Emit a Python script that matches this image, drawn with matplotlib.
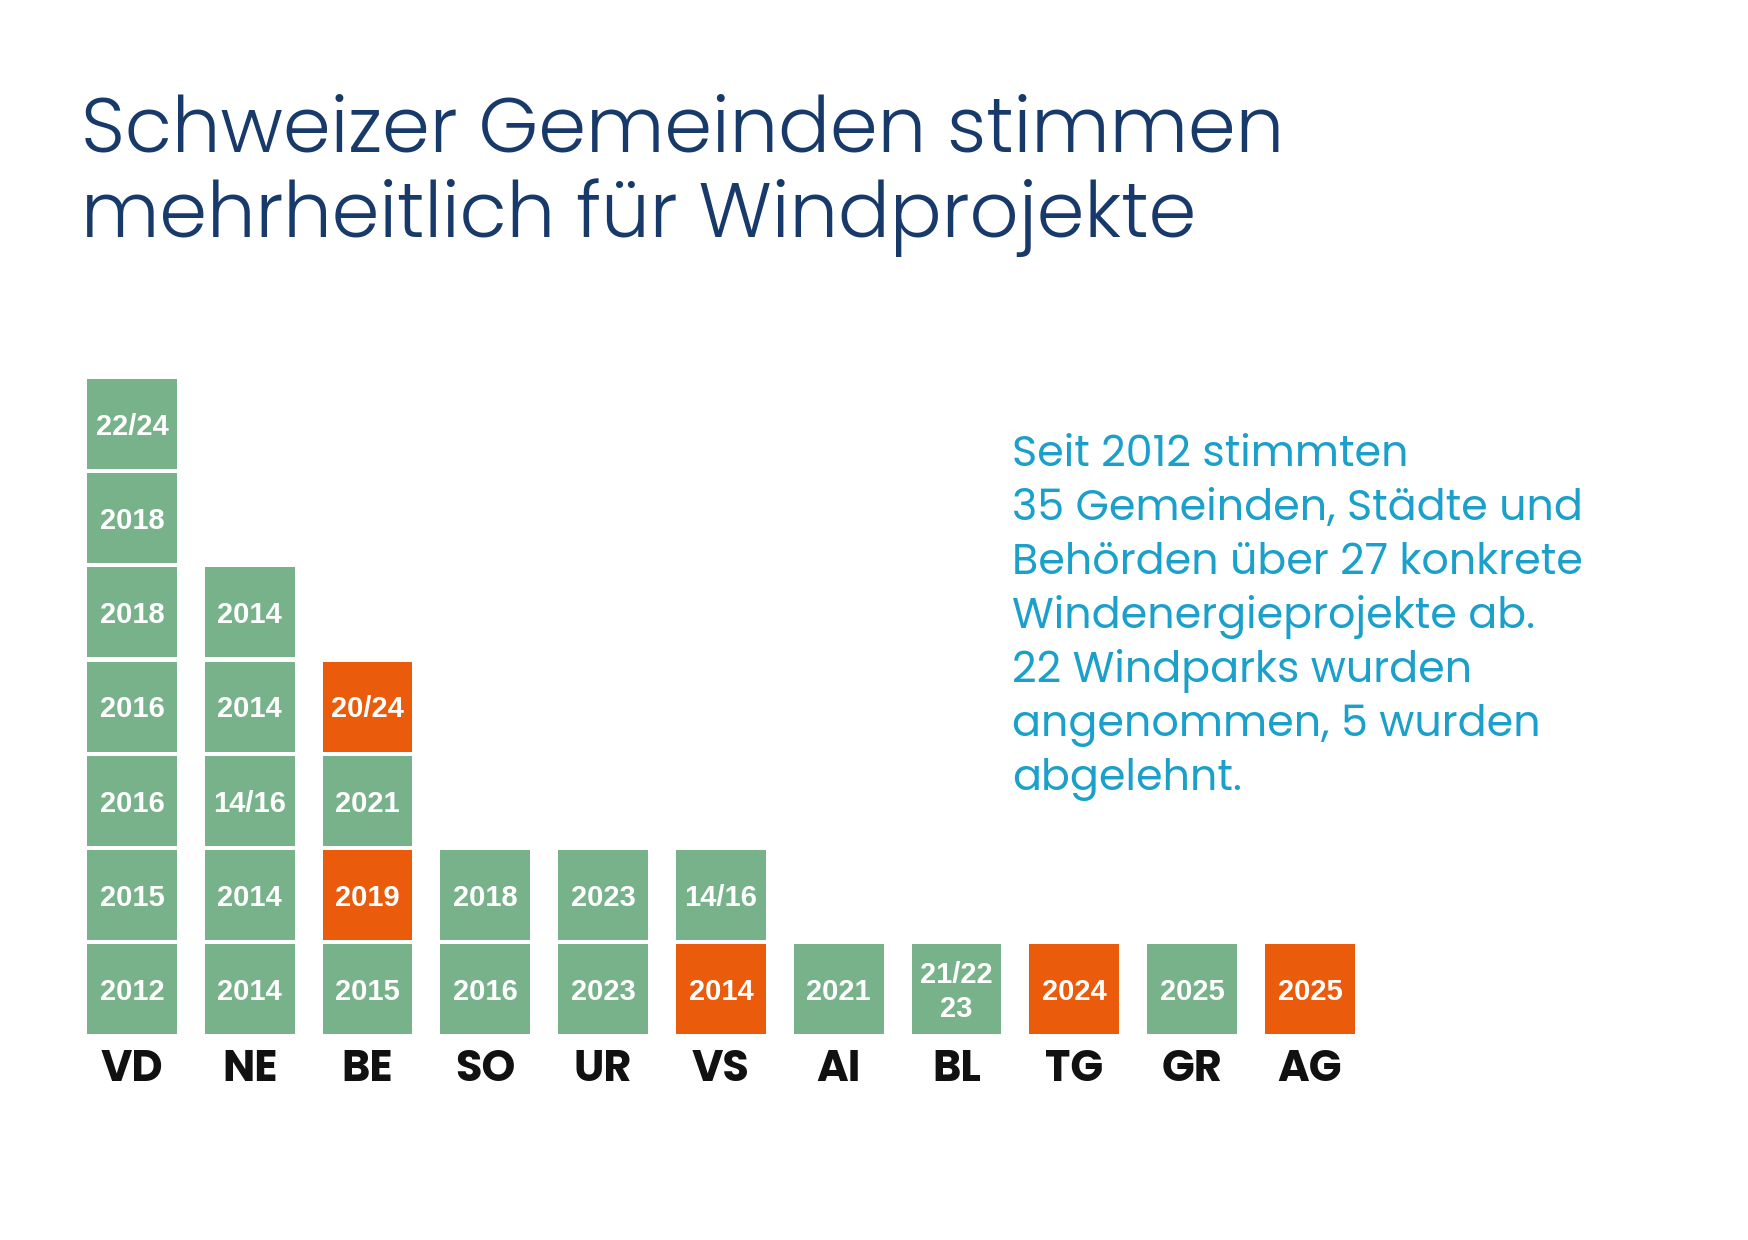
import matplotlib
matplotlib.use('Agg')
import matplotlib.pyplot as plt

W, H, DPI = 1748, 1240, 100

GREEN = '#78b28b'
ORANGE = '#ea5b0c'
NAVY = '#183a6b'
CYAN = '#1aa0ca'

HEAD_FONT = ['Poppins', 'Inter', 'DejaVu Sans']
YEAR_FONT = ['Liberation Sans', 'DejaVu Sans']

# cantons, left to right
cantons = ['VD', 'NE', 'BE', 'SO', 'UR', 'VS', 'AI', 'BL', 'TG', 'GR', 'AG']

# vote years per canton, bottom to top
years = [
    ['2012', '2015', '2016', '2016', '2018', '2018', '22/24'],
    ['2014', '2014', '14/16', '2014', '2014'],
    ['2015', '2019', '2021', '20/24'],
    ['2016', '2018'],
    ['2023', '2023'],
    ['2014', '14/16'],
    ['2021'],
    ['21/22\n23'],
    ['2024'],
    ['2025'],
    ['2025'],
]

# 1 = project rejected, 0 = accepted
rejected = [
    [0, 0, 0, 0, 0, 0, 0],
    [0, 0, 0, 0, 0],
    [0, 1, 0, 1],
    [0, 0],
    [0, 0],
    [1, 0],
    [0],
    [0],
    [1],
    [0],
    [1],
]

title_lines = ['Schweizer Gemeinden stimmen',
               'mehrheitlich für Windprojekte']

note_lines = ['Seit 2012 stimmten',
              '35 Gemeinden, Städte und',
              'Behörden über 27 konkrete',
              'Windenergieprojekte ab.',
              '22 Windparks wurden',
              'angenommen, 5 wurden',
              'abgelehnt.']

fig = plt.figure(figsize=(W / DPI, H / DPI), dpi=DPI)
fig.patch.set_facecolor('white')

ax = fig.add_axes([73.0 / W, 0.1642, 1295.8 / W, 0.5319])
ax.set_xlim(-0.5, len(cantons) - 0.5)
ax.set_ylim(0, 7)
ax.axis('off')

BOX_W = 0.761
BOX_H = 0.955
for i, (col_years, col_rej) in enumerate(zip(years, rejected)):
    levels = list(range(len(col_years)))
    colors = [ORANGE if r else GREEN for r in col_rej]
    ax.bar([i] * len(levels), [BOX_H] * len(levels),
           bottom=[k + (1 - BOX_H) / 2 for k in levels],
           width=BOX_W, color=colors, linewidth=0)
    for k, label in zip(levels, col_years):
        ax.text(i, k + 0.47, label, ha='center', va='center',
                color='white', fontsize=21, fontweight='bold',
                family=YEAR_FONT, linespacing=1.3)
    ax.text(i, -0.473, cantons[i], ha='center', va='baseline',
            color='#111111', fontsize=31, fontweight=700,
            family=HEAD_FONT, clip_on=False)

# title
for j, line in enumerate(title_lines):
    fig.text(81 / W, 1 - (151.7 + 85 * j) / H, line, ha='left', va='baseline',
             color=NAVY, fontsize=55.3, fontweight=300, family=HEAD_FONT)

# side note
for j, line in enumerate(note_lines):
    fig.text(1012 / W, 1 - (466 + 54 * j) / H, line, ha='left', va='baseline',
             color=CYAN, fontsize=30.8, fontweight=400, family=HEAD_FONT)

fig.savefig('out.png', dpi=DPI, facecolor='white')
